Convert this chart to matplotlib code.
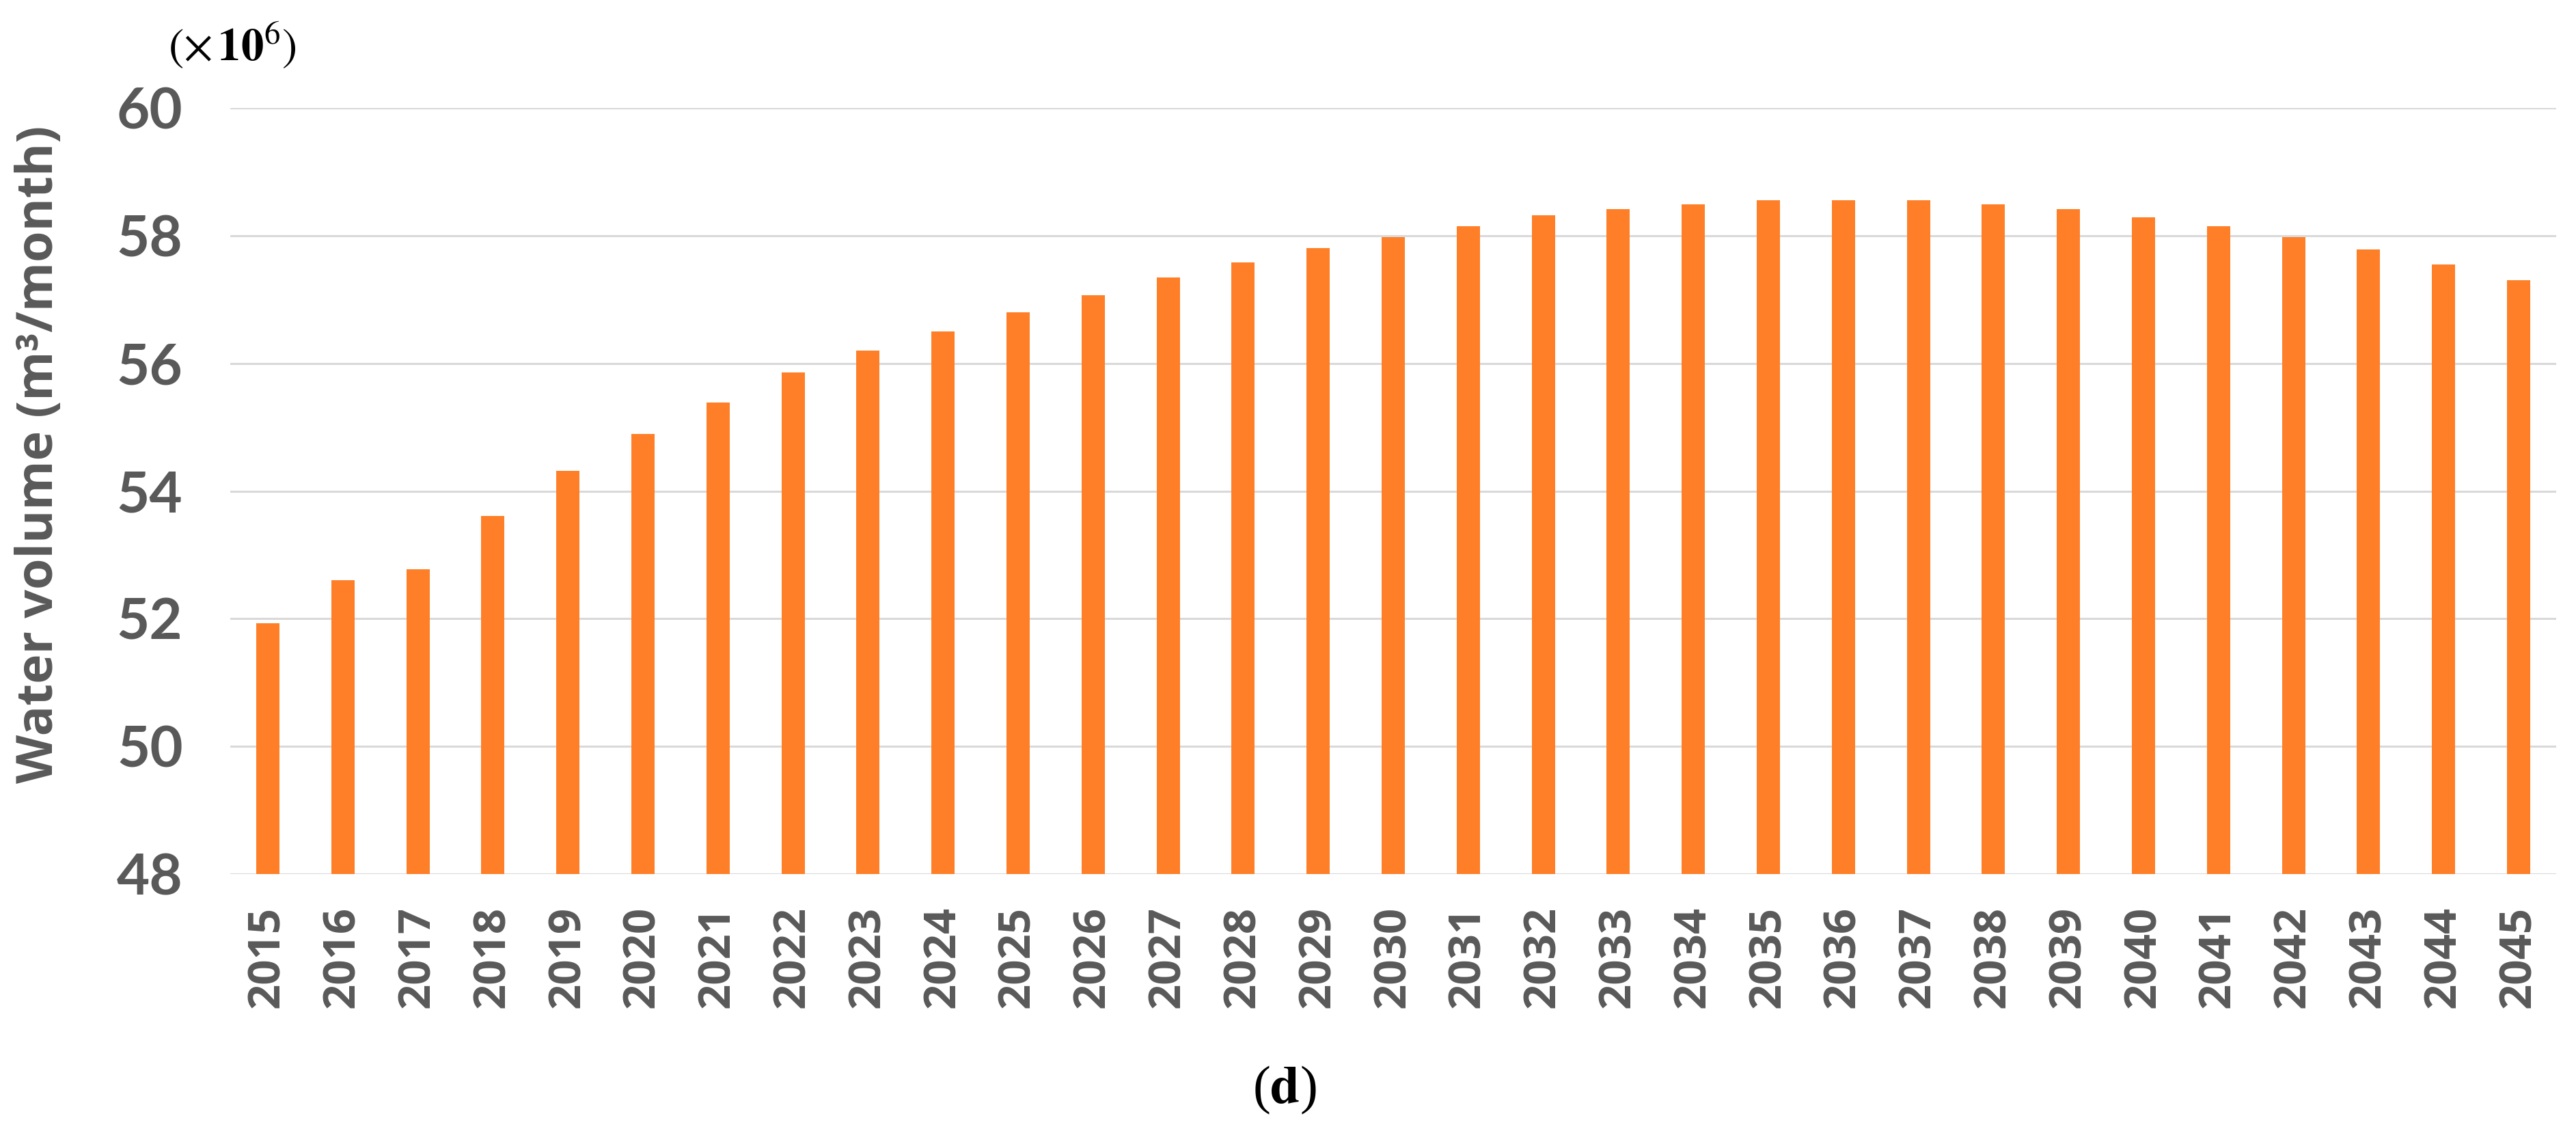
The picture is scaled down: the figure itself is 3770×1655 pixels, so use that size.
import numpy as np
import matplotlib
matplotlib.use("Agg")
import matplotlib.pyplot as plt

# water volume per year, x 10^6 m3/month
years = [str(y) for y in range(2015, 2046)]
volume = [51.93, 52.60, 52.77, 53.61, 54.32, 54.89, 55.39, 55.86, 56.20, 56.50,
          56.80, 57.07, 57.35, 57.58, 57.81, 57.98, 58.15, 58.32, 58.42, 58.49,
          58.55, 58.55, 58.55, 58.49, 58.42, 58.29, 58.15, 57.98, 57.78, 57.55,
          57.30]
yticks = [48, 50, 52, 54, 56, 58, 60]

grey = '#595959'
orange = '#FE7F28'

plt.rcParams['mathtext.fontset'] = 'stix'

fig = plt.figure(figsize=(18.85, 8.275), dpi=200)
ax = fig.add_axes([0.0894, 0.2272, 0.9029, 0.6773])

x = np.arange(len(years))
ax.bar(x, np.array(volume) - 48, bottom=48, width=0.31, color=orange, zorder=3)

ax.set_ylim(48, 60)
ax.set_xlim(-0.5, len(years) - 0.5)
ax.set_yticks(yticks)
ax.yaxis.grid(True, color='#d9d9d9', linewidth=1.1, zorder=0)
for s in ax.spines.values():
    s.set_visible(False)
ax.tick_params(axis='both', length=0)
ax.tick_params(axis='y', pad=25)
ax.tick_params(axis='x', pad=17)

ax.set_xticks(x)
ax.set_xticklabels(years, rotation=90, fontsize=23.5, fontweight='bold',
                   color=grey, family=['Open Sans', 'DejaVu Sans'])
for lab in ax.get_yticklabels():
    lab.set_fontsize(30)
    lab.set_fontweight('bold')
    lab.set_color(grey)
    lab.set_family(['Lato', 'DejaVu Sans'])

fig.text(0.0154, 0.598, 'Water volume (m³/month)', rotation=90, ha='center',
         va='center', fontsize=26.5, fontweight='bold', color=grey,
         family=['Open Sans', 'DejaVu Sans'])

fig.text(0.0902, 0.96, r'$(\times\,\mathbf{10}^{6})$', ha='center', va='center',
         fontsize=24, color='black')

fig.text(0.4987, 0.036, r'($\mathbf{d}$)', ha='center', va='center',
         fontsize=28, color='black', family='Liberation Serif')

fig.savefig('out.png', dpi=200)
